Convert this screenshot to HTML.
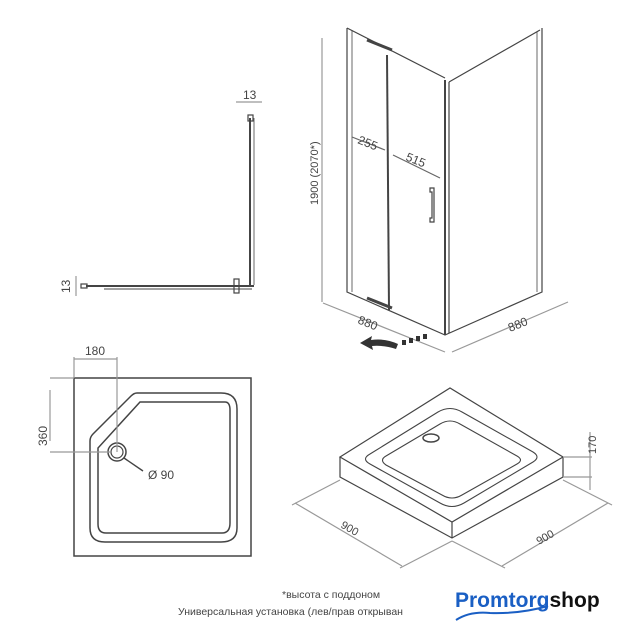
<!DOCTYPE html>
<html><head><meta charset="utf-8"><style>
html,body{margin:0;padding:0;background:#fff;}
svg{display:block;}
text{font-family:"Liberation Sans","DejaVu Sans",sans-serif;fill:#444;}
</style></head><body>
<svg width="641" height="640" viewBox="0 0 641 640" xmlns="http://www.w3.org/2000/svg">
<g stroke="#444" fill="none" stroke-width="1.2">
<line x1="250" y1="118" x2="250" y2="285" stroke-width="2"/>
<line x1="254" y1="118" x2="254" y2="285" stroke-width="0.8"/>
<rect x="248" y="115" width="5" height="6"/>
<line x1="86" y1="286" x2="254" y2="286" stroke-width="2"/>
<line x1="104" y1="289" x2="252" y2="289" stroke-width="1"/>
<rect x="81" y="284" width="6" height="4"/>
<rect x="234" y="279" width="5" height="14"/>
<line x1="236" y1="102" x2="262" y2="102" stroke="#999"/>
<line x1="76" y1="276" x2="76" y2="296" stroke="#999"/>
<path d="M347 28 L347 292 L445 335 L542 292 L542 28"/>
<path d="M347 28 L445 78 M449 82 L540 30"/>
<line x1="445" y1="80" x2="445" y2="335" stroke-width="2"/>
<line x1="449" y1="82" x2="449" y2="333"/>
<line x1="352" y1="30" x2="352" y2="292" stroke-width="0.8"/>
<line x1="537" y1="32" x2="537" y2="292" stroke-width="0.8"/>
<line x1="387" y1="55" x2="389" y2="310" stroke-width="2"/>
<line x1="367" y1="40" x2="392" y2="50" stroke-width="3"/>
<line x1="367" y1="298" x2="392" y2="308" stroke-width="3"/>
<path d="M430 188 h4 v34 h-4 v-4 h2 v-26 h-2 z"/>
<line x1="322" y1="38" x2="322" y2="302" stroke="#999"/>
<line x1="352" y1="137" x2="385" y2="150" stroke="#666"/>
<line x1="393" y1="155" x2="440" y2="178" stroke="#666"/>
<line x1="323" y1="303" x2="445" y2="352" stroke="#999"/>
<line x1="452" y1="352" x2="568" y2="302" stroke="#999"/>
<rect x="74" y="378" width="177" height="178" stroke-width="1.5"/>
<path d="M137 393 H221 Q237 393 237 409 V528 Q237 542 221 542 H105 Q90 542 90 528 V441 Q90 437 93 434 L131 396 Q134 393 137 393 Z" stroke-width="1.5"/>
<path d="M140 402 H225 Q230 402 230 410 V523 Q230 533 222 533 H106 Q98 533 98 524 V448 L140 402 Z" stroke-width="1.5"/>
<circle cx="117" cy="452" r="9" stroke-width="1.5"/><circle cx="117" cy="452" r="6"/>
<line x1="74" y1="357" x2="74" y2="378" stroke="#999"/><line x1="117" y1="357" x2="117" y2="452" stroke="#999"/>
<line x1="74" y1="359" x2="117" y2="359" stroke="#999"/>
<line x1="50" y1="378" x2="74" y2="378" stroke="#999"/><line x1="50" y1="452" x2="110" y2="452" stroke="#999"/>
<line x1="50" y1="390" x2="50" y2="441" stroke="#999"/>
<line x1="124" y1="458" x2="143" y2="471" stroke-width="1.4"/>
<path d="M340 457 L450 388 L563 457 L452 522 Z"/>
<path d="M340 457 V477 L452 538 L563 477 V457 M452 522 V538"/>
<path d="M370 454 L438 412 Q450 405 462 412 L533 452 Q541 457 533 462 L464 503 Q452 510 440 503 L370 464 Q361 459 370 454 Z" stroke-width="1.1"/>
<path d="M386 456 L440 424 Q450 418 460 424 L517 456 Q524 460 517 464 L462 495 Q452 501 442 495 L386 465 Q379 460 386 456 Z" stroke-width="1.1"/>
<ellipse cx="431" cy="438" rx="8" ry="4" stroke-width="1.5"/>
<line x1="563" y1="457" x2="592" y2="457" stroke="#999"/><line x1="563" y1="477" x2="592" y2="477" stroke="#999"/>
<line x1="590" y1="432" x2="590" y2="490" stroke="#999"/>
<line x1="340" y1="480" x2="292" y2="505" stroke="#999"/><line x1="452" y1="541" x2="400" y2="568" stroke="#999"/>
<line x1="295" y1="503" x2="402" y2="566" stroke="#999"/>
<line x1="563" y1="480" x2="612" y2="505" stroke="#999"/><line x1="452" y1="541" x2="505" y2="568" stroke="#999"/>
<line x1="608" y1="503" x2="502" y2="566" stroke="#999"/>
</g>
<path d="M360 343 L372 336 L371 340 Q385 338 398 344 L396 349 Q384 345 372 346 L373 350 Z" fill="#333"/>
<g fill="#333"><rect x="402" y="340" width="4" height="5"/><rect x="409" y="338" width="4" height="5"/><rect x="416" y="336" width="4" height="5"/><rect x="423" y="334" width="4" height="5"/></g>
<text x="243" y="99" font-size="12">13</text>
<text transform="translate(70,293) rotate(-90)" font-size="12">13</text>
<text transform="translate(318,205) rotate(-90)" font-size="11">1900 (2070*)</text>
<text transform="translate(357,143) rotate(22)" font-size="12">255</text>
<text transform="translate(405,160) rotate(22)" font-size="12">515</text>
<text transform="translate(357,323) rotate(22)" font-size="12">880</text>
<text transform="translate(510,332) rotate(-22)" font-size="12">880</text>
<text x="85" y="355" font-size="12">180</text>
<text transform="translate(47,446) rotate(-90)" font-size="12">360</text>
<text x="148" y="479" font-size="12">Ø 90</text>
<text transform="translate(596,454) rotate(-90)" font-size="11">170</text>
<text transform="translate(340,527) rotate(30)" font-size="11">900</text>
<text transform="translate(539,545) rotate(-30)" font-size="11">900</text>
<text x="282" y="598" font-size="10.5">*высота с поддоном</text>
<text x="178" y="615" font-size="10.5">Универсальная установка (лев/прав открыван</text>
<text x="455" y="607" font-size="21" font-weight="bold" style="fill:#1a5fc4">Promtorg<tspan style="fill:#111">shop</tspan></text>
<path d="M456 620 Q470 611 490 613 Q520 614 548 606" stroke="#1a5fc4" stroke-width="2" fill="none"/>
</svg>
</body></html>
